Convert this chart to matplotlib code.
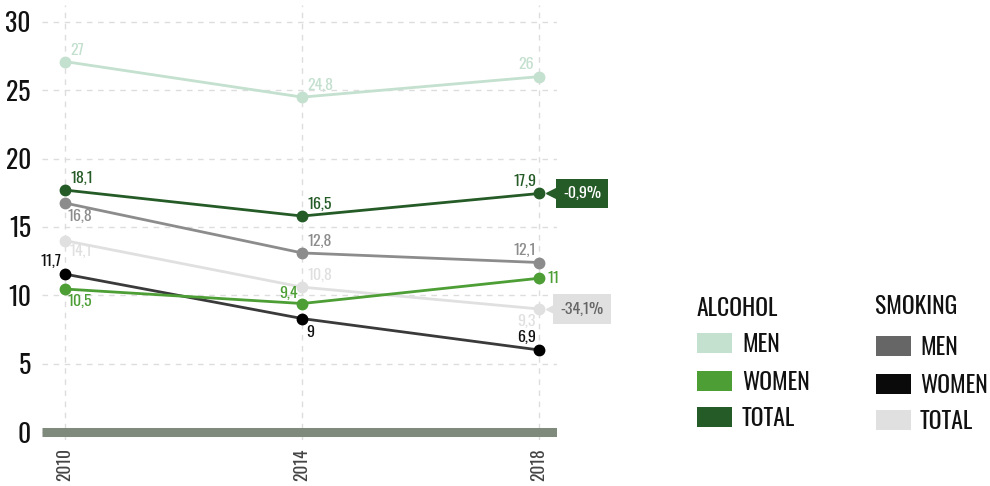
import matplotlib
matplotlib.use("Agg")
import matplotlib.pyplot as plt
from matplotlib.patches import Rectangle
from matplotlib import transforms

plt.rcParams['font.family'] = ['Oswald', 'Barlow Condensed', 'DejaVu Sans']

years = [2010, 2014, 2018]
yticks = [0, 5, 10, 15, 20, 25, 30]

# plotted values and label strings
alc_men = [27.1, 24.5, 26.0]
alc_men_lbl = ["27", "24,8", "26"]
alc_women = [10.46, 9.4, 11.25]
alc_women_lbl = ["10,5", "9,4", "11"]
alc_total = [17.7, 15.8, 17.45]
alc_total_lbl = ["18,1", "16,5", "17,9"]
smk_men = [16.75, 13.1, 12.4]
smk_men_lbl = ["16,8", "12,8", "12,1"]
smk_women = [11.55, 8.3, 6.0]
smk_women_lbl = ["11,7", "9", "6,9"]
smk_total = [14.0, 10.6, 9.0]
smk_total_lbl = ["14,1", "10,8", "9,3"]

alc_change = "-0,9%"
smk_change = "-34,1%"

C_AM, C_AW, C_AT = "#c4e0cf", "#4c9e35", "#255b27"
C_SM, C_SW, C_ST = "#8c8c8c", "#3a3a3a", "#e0e0e0"

fig = plt.figure(figsize=(9.9, 4.86), dpi=100)
ax = fig.add_axes([42/990, 46/486, 515/990, 435/486])
ax.set_xlim(2009.61, 2018.30)
ax.set_ylim(-0.585, 31.24)

ax.grid(True, linestyle=(0, (4, 4)), color="#dddddd", linewidth=1)
ax.set_axisbelow(True)
for s in ax.spines.values():
    s.set_visible(False)
ax.set_xticks(years)
ax.set_xticklabels([str(y) for y in years], rotation=90, fontsize=12.5, color="#444444", fontweight=300)
ax.set_yticks(yticks)
ax.set_yticklabels([str(v) for v in yticks], fontsize=18.5, color="#111111", fontweight=400)
ax.tick_params(length=0, pad=8)
ax.tick_params(axis='x', pad=6)

ax.axhline(0, color="#7f897c", linewidth=6.5, zorder=1, solid_capstyle='butt')

series = [
    (alc_men, alc_men_lbl, C_AM, C_AM),
    (smk_total, smk_total_lbl, C_ST, C_ST),
    (smk_men, smk_men_lbl, C_SM, C_SM),
    (smk_women, smk_women_lbl, C_SW, "#000000"),
    (alc_women, alc_women_lbl, C_AW, C_AW),
    (alc_total, alc_total_lbl, C_AT, C_AT),
]
for vals, lbls, col, mcol in series:
    ax.plot(years, vals, color=col, linewidth=2, marker='o', markersize=7.5,
            markerfacecolor=mcol, markeredgecolor=mcol, zorder=3, clip_on=False)

def lab(vals, lbls, col, places, lcol=None):
    for x, v, t, (dx, dy, ha, va) in zip(years, vals, lbls, places):
        ax.annotate(t, (x, v), xytext=(dx, dy), textcoords='offset pixels',
                    ha=ha, va=va, fontsize=11.5, color=lcol or col, fontweight=300)

UR = (5, 4, 'left', 'bottom')
UL = (-3, 5, 'right', 'bottom')
lab(alc_men, alc_men_lbl, C_AM, [UR, UR, (-5, 5, 'right', 'bottom')])
lab(alc_total, alc_total_lbl, C_AT, [UR, UR, UL])
lab(smk_men, smk_men_lbl, C_SM, [(2, -6, 'left', 'top'), UR, UL])
lab(smk_total, smk_total_lbl, C_ST, [(4, -3, 'left', 'top'), UR, (-3, -5, 'right', 'top')])
lab(smk_women, smk_women_lbl, C_SW, [(-4, 5, 'right', 'bottom'), (4, -6, 'left', 'top'), UL], lcol="#111111")
lab(alc_women, alc_women_lbl, C_AW, [(2, -5, 'left', 'top'), (-4, 3, 'right', 'bottom'), (8, 0, 'left', 'center')])

# change boxes
tri = transforms.offset_copy(ax.transData, fig=fig, x=13, y=0, units='dots')
for v, t, bg, fg in [(alc_total[2], alc_change, C_AT, "#ffffff"),
                     (smk_total[2], smk_change, "#e0e0e0", "#666666")]:
    ax.annotate(t, (2018, v), xytext=(43, 0), textcoords='offset pixels',
                ha='center', va='center', fontsize=11.5, color=fg, annotation_clip=False,
                fontweight=300,
                bbox=dict(boxstyle='square,pad=0.45', fc=bg, ec='none'))
    ax.plot([2018], [v], marker='<', markersize=8, color=bg, transform=tri,
            clip_on=False, zorder=2)

def fx(x):
    return x / 990
def fy(y):
    return 1 - y / 486

# legend
fig.text(fx(697), fy(308), "ALCOHOL", fontsize=17, color="#111111", va='center', ha='left')
fig.text(fx(875), fy(306), "SMOKING", fontsize=17, color="#111111", va='center', ha='left')
leg = [
    (697, 742, [(343, C_AM, "MEN"), (381, C_AW, "WOMEN"), (417, C_AT, "TOTAL")]),
    (876, 920, [(346, "#666666", "MEN"), (384, "#0a0a0a", "WOMEN"), (420, "#e0e0e0", "TOTAL")]),
]
for px, tx, items in leg:
    for cy, col, name in items:
        fig.add_artist(Rectangle((fx(px), fy(cy + 10)), 35/990, 20/486,
                                 transform=fig.transFigure, fc=col, ec='none'))
        fig.text(fx(tx), fy(cy + 1), name, fontsize=17, color="#111111", va='center', ha='left')

fig.savefig("out.png", dpi=100)
